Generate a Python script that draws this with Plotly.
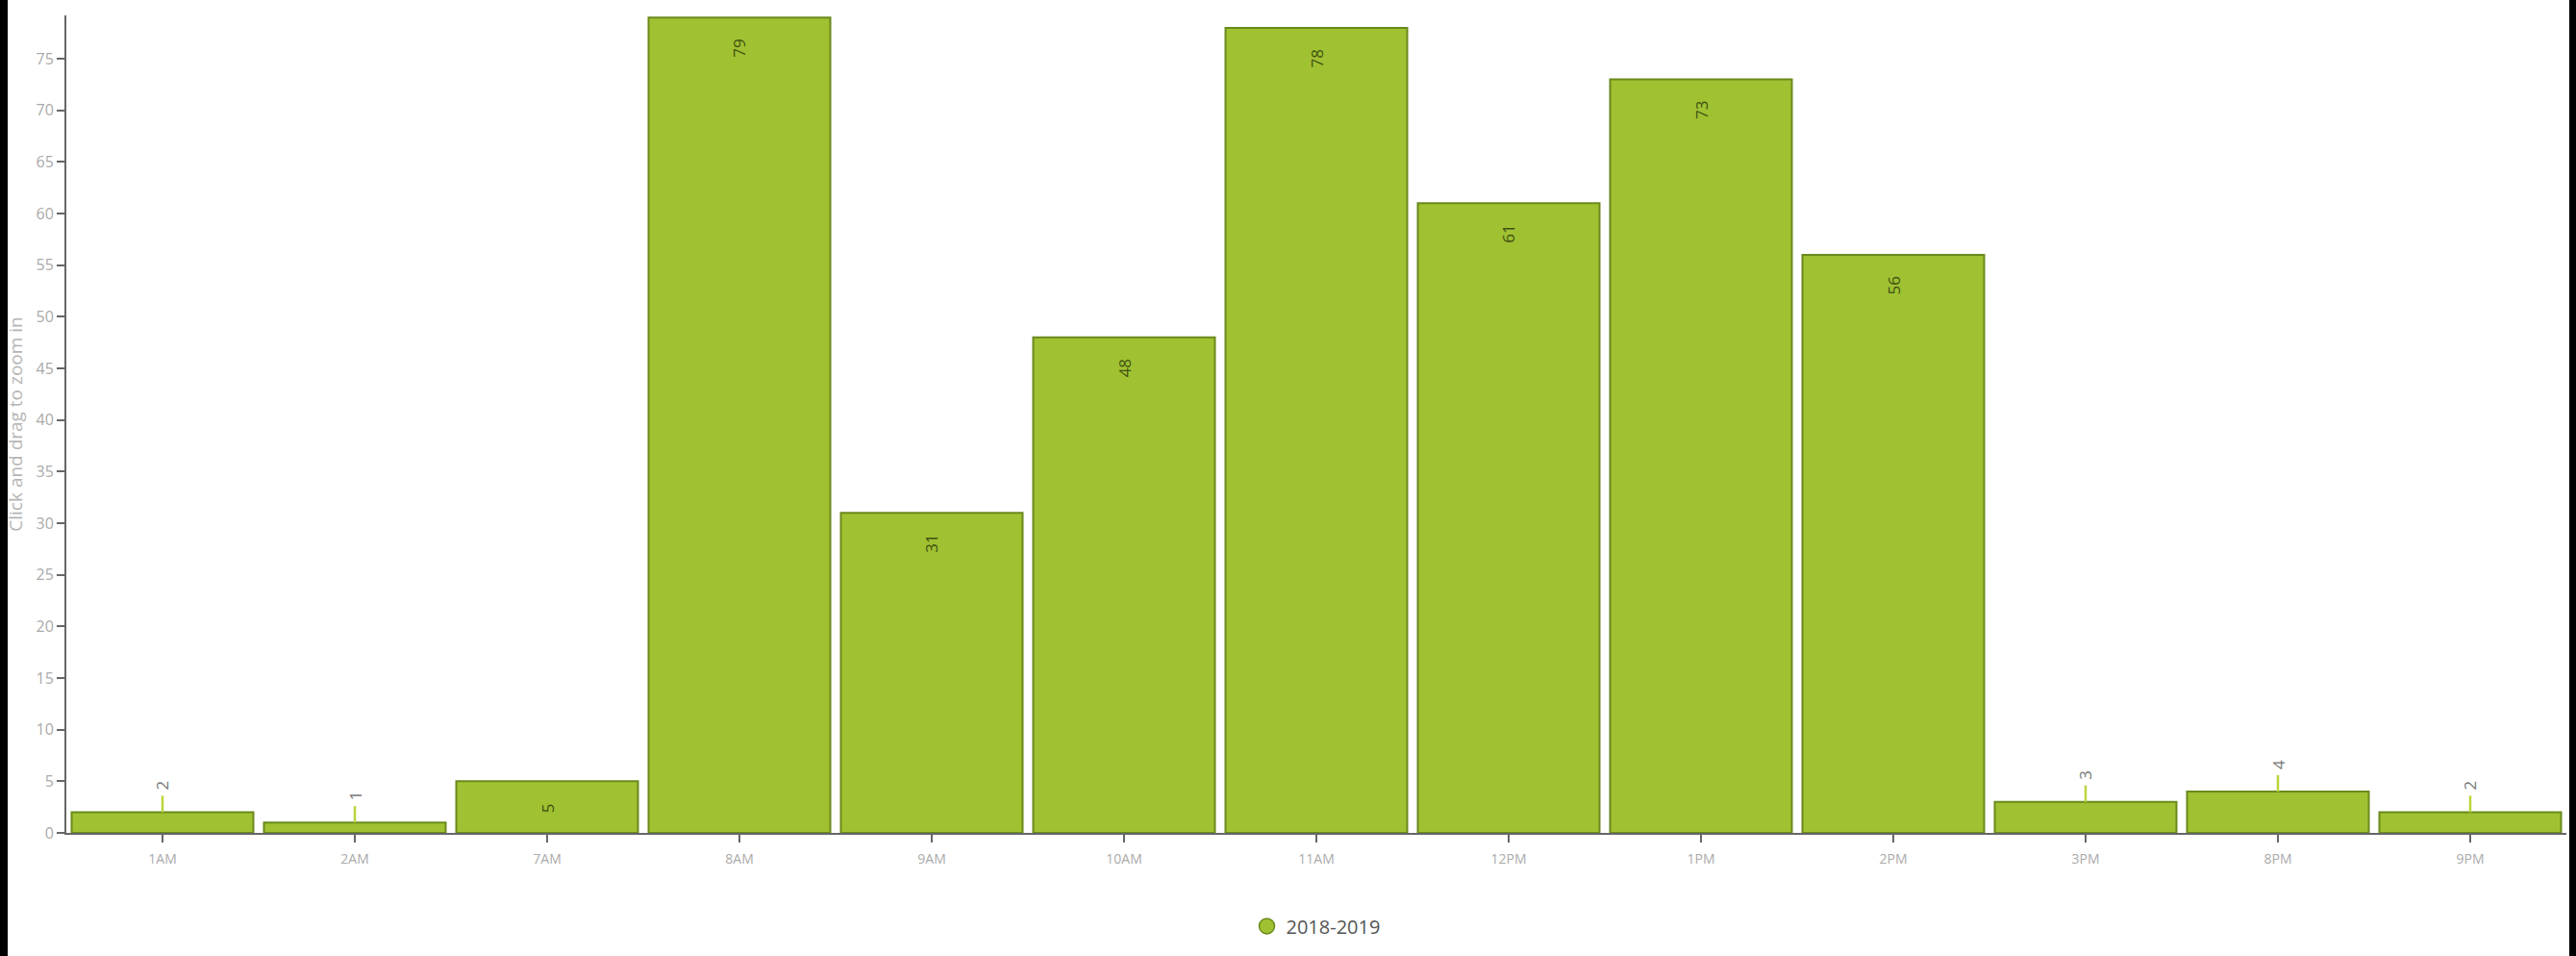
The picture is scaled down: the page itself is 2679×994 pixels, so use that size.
import plotly.graph_objects as go

categories = ["1AM", "2AM", "7AM", "8AM", "9AM", "10AM", "11AM", "12PM", "1PM", "2PM", "3PM", "8PM", "9PM"]
values = [2, 1, 5, 79, 31, 48, 78, 61, 73, 56, 3, 4, 2]
series_name = "2018-2019"
y_ticks = list(range(0, 80, 5))

BAR = "#a0c131"
EDGE = "#6a8a1c"
CONNECT = "#b9d63c"
outside = [v < 5 for v in values]
connector_len = 1.6

fig = go.Figure()
fig.add_trace(go.Bar(
    x=categories, y=values, name=series_name, showlegend=False,
    marker=dict(color=BAR, line=dict(color=EDGE, width=2)),
    error_y=dict(type="data", symmetric=False,
                 array=[connector_len if o else 0 for o in outside],
                 arrayminus=[0] * len(values),
                 color=CONNECT, thickness=2.5, width=0),
    hoverinfo="x+y",
))
fig.add_trace(go.Scatter(
    x=[None], y=[None], mode="markers", name=series_name,
    marker=dict(symbol="circle", size=20, color=BAR, line=dict(color=EDGE, width=1.5)),
))

for c, v, o in zip(categories, values, outside):
    if o:
        fig.add_annotation(x=c, y=v, text=str(v), showarrow=False, textangle=-90,
                           yanchor="bottom", yshift=21,
                           font=dict(family="Open Sans", size=17, color="#7a7a7a"))
    else:
        fig.add_annotation(x=c, y=v, text=str(v), showarrow=False, textangle=-90,
                           yanchor="top", yshift=-21,
                           font=dict(family="Open Sans", size=17, color="#3f5214"))

fig.add_annotation(xref="paper", yref="paper", x=-0.0205, y=0.5, text="Click and drag to zoom in",
                   showarrow=False, textangle=-90, xanchor="center", yanchor="middle",
                   font=dict(family="Open Sans", size=19, color="#b5b5b5"))

# screenshot side strips
fig.add_shape(type="rect", xref="paper", yref="paper", x0=-70/2600, x1=-61/2600, y0=-0.2, y1=1.05,
              fillcolor="black", line_width=0, layer="above")
fig.add_shape(type="rect", xref="paper", yref="paper", x0=1 + 3/2600, x1=1 + 12/2600, y0=-0.2, y1=1.05,
              fillcolor="black", line_width=0, layer="above")

fig.update_layout(
    width=2679, height=994,
    margin=dict(l=69, r=10, t=16, b=128),
    paper_bgcolor="white", plot_bgcolor="white",
    bargap=0.055,
    font=dict(family="Open Sans", color="#666666"),
    legend=dict(orientation="h", x=0.5, xanchor="center", y=-0.114, yanchor="middle",
                font=dict(family="Open Sans", size=20, color="#555555")),
    xaxis=dict(showline=True, linecolor="#666666", linewidth=2, ticks="outside", ticklen=8,
               tickwidth=2, tickcolor="#666666", showgrid=False, ticklabelstandoff=5,
               tickfont=dict(family="Open Sans", size=14, color="#aaaaaa")),
    yaxis=dict(range=[0, 79.2], tickvals=y_ticks, showline=True, linecolor="#666666", linewidth=2,
               ticks="outside", ticklen=8, tickwidth=2, tickcolor="#666666", showgrid=False,
               zeroline=False, tickfont=dict(family="Open Sans", size=16, color="#aaaaaa")),
)

fig.write_html("out.html")
